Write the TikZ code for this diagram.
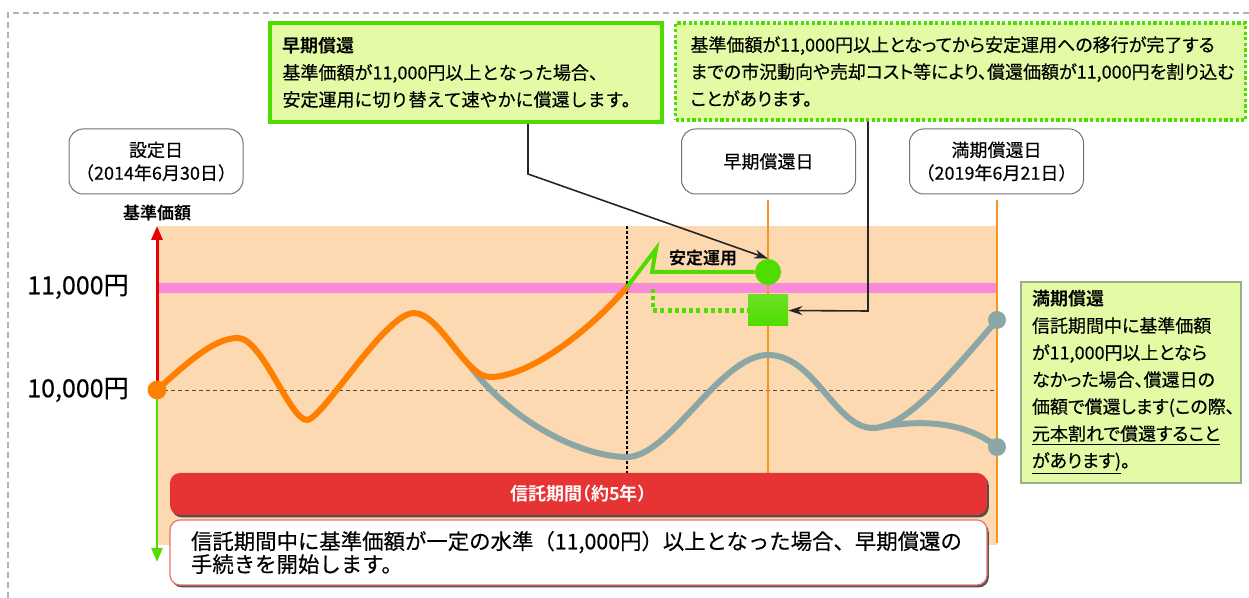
\documentclass[tikz,border=0pt]{standalone}
\usepackage{fontspec}
\setmainfont{Noto Sans CJK JP}[BoldFont={* Bold},UprightFeatures={FakeBold=0.35}]
\newfontfamily\propjp{Noto Sans CJK JP}[BoldFont={* Bold},RawFeature=+palt,UprightFeatures={FakeBold=0.35}]
\usetikzlibrary{arrows.meta,positioning,shadows}

\definecolor{leaf}{HTML}{4FDC00}
\definecolor{pale}{HTML}{E3FBA4}
\definecolor{sage}{HTML}{9AAE8C}
\definecolor{peach}{HTML}{FCD9B1}
\definecolor{pinkband}{HTML}{F98AD8}
\definecolor{pumpkin}{HTML}{FF8000}
\definecolor{tangerine}{HTML}{F7941D}
\definecolor{slate}{HTML}{8CA6A6}
\definecolor{barred}{HTML}{E63333}
\definecolor{axisred}{HTML}{E60000}
\definecolor{axisgreen}{HTML}{55DD00}

\tikzset{
  datebox/.style={draw=black!55, line width=0.5pt, rounded corners=7pt, fill=white,
    minimum width=87pt, minimum height=32.5pt, align=center, inner sep=0pt,
    font=\fontsize{9}{11.5}\selectfont},
  notebox/.style={fill=pale, align=left, inner ysep=0pt, font=\fontsize{9}{13.5}\selectfont},
  pricelabel/.style={anchor=east, inner sep=0pt, font=\fontsize{12.5}{13}\selectfont},
  boldlabel/.style={inner sep=0pt, font=\bfseries\fontsize{8.5}{10}\selectfont},
  callout/.style={draw=black!85, line width=0.8pt, -{Stealth[length=7pt,width=4.5pt]}},
  fund/.style={line width=3pt, line cap=round, line join=round},
  dateline/.style={tangerine, line width=1pt},
  endpoint/.style={circle, fill=slate, minimum size=9pt, inner sep=0pt},
  band/.style={rounded corners=5pt, minimum width=408.5pt,
    drop shadow={shadow xshift=0.9pt, shadow yshift=-1.2pt, fill=black!75, opacity=0.9}},
}

\begin{document}
\begin{tikzpicture}[x=0.5pt,y=-0.5pt]
\useasboundingbox (0,0) rectangle (1249,598);

%frame
\draw[gray!60, line width=0.6pt, dash pattern=on 3pt off 2pt] (8,598) -- (8,13) -- (1249,13);

%chart area
\fill[peach] (157,226) rectangle (997,545);
\fill[pinkband] (157,283) rectangle (997,293);
\draw[black!70, line width=0.4pt, dash pattern=on 2pt off 1.5pt] (157,390) -- (997,390);

%price labels
\node[pricelabel] (upper) at (129,287) {11,000円};
\node[pricelabel] (base) at (129,390) {10,000円};
\node[boldlabel] (navlabel) at (157,213) {基準価額};

%dates
\node[datebox] (start) at (156,161.5) {設定日\\（2014年6月30日）};
\node[datebox] (earlyday) at (768.5,161.5) {早期償還日};
\node[datebox] (endday) at (996.5,161.5) {満期償還日\\（2019年6月21日）};
\draw[dateline] (768,200) -- (768,473);
\draw[dateline] (997,200) -- (997,543);

%axis
\coordinate (zero) at (157,390);
\draw[axisred, line width=1.5pt, -{Triangle[length=7pt,width=5.5pt]}] (zero) -- (157,226);
\draw[axisgreen, line width=1.3pt, -{Triangle[length=7pt,width=5.5pt]}] (zero) -- (157,562);

%switch point
\draw[black, line width=0.9pt, dash pattern=on 1.5pt off 1pt] (627,226) -- (627,473);

%price paths
\draw[fund, slate] (470,366) .. controls (510,420) and (580,457) .. (627,457)
  .. controls (670,457) and (720,355) .. (768,355)
  .. controls (815,355) and (835,428) .. (873,428)
  .. controls (905,428) and (950,375) .. (997,320);
\draw[fund, slate] (880,427) .. controls (930,418) and (970,425) .. (997,447);
\draw[fund, pumpkin] (157,390) .. controls (190,360) and (215,338) .. (238,338)
  .. controls (262,338) and (290,420) .. (307,420)
  .. controls (322,420) and (385,313) .. (414,313)
  .. controls (440,313) and (465,377) .. (490,377)
  .. controls (530,377) and (590,330) .. (627,287);
\fill[pumpkin] (zero) circle[radius=4.7pt];
\node[endpoint] (high) at (997,320) {};
\node[endpoint] (low) at (997,447) {};

%stable
\coordinate (cross) at (627,287);
\node[circle, fill=leaf, minimum size=13pt, inner sep=0pt] (hold) at (768,272) {};
\node[minimum width=20pt, minimum height=15.5pt, inner sep=0pt,
  top color=leaf!85, middle color=leaf!35!white, bottom color=leaf] (payout) at (768,310.5) {};
\draw[leaf, line width=2pt] (cross) -- (656,249) -- (652,272) -- (hold.west);
\draw[leaf, line width=2.4pt, dash pattern=on 2pt off 1.6pt] (653,289) -- (653,310.5) -- (payout.west);
\node[boldlabel] (steady) at (703,258) {安定運用};

%notes
\node[notebox, draw=leaf, line width=2pt, text width=183pt, inner xsep=6.5pt,
  minimum height=49.5pt] (early) at (465.5,72.5)
  {\textbf{早期償還}\\基準価額が11,000円以上となった場合、\\安定運用に切り替えて速やかに償還します。};
\node[notebox, draw=leaf, line width=1.6pt, dash pattern=on 1.6pt off 1.2pt, text width=270pt,
  inner xsep=7.5pt, minimum height=48.5pt, font=\propjp\fontsize{9}{13.5}\selectfont] (slip) at (960.5,71.5)
  {基準価額が11,000円以上となってから安定運用への移行が完了する\\までの市況動向や売却コスト等により、償還価額が11,000円を割り込む\\ことがあります。};
\node[notebox, draw=sage, line width=0.6pt, text width=99pt, inner xsep=5.5pt,
  minimum height=100.5pt, font=\propjp\fontsize{9}{13.5}\selectfont] (maturity) at (1131,382.5)
  {\textbf{満期償還}\\信託期間中に基準価額\\が11,000円以上となら\\なかった場合、償還日の\\価額で償還します(この際、\\\underline{元本割れで償還すること}\\\underline{があります)}。};

%callouts
\coordinate (bend1) at (528,174);
\draw[callout] (early.south -| bend1) -- (bend1) -- (hold.north);
\coordinate (bend2) at (868,311);
\draw[callout] (slip.south -| bend2) -- (bend2) -- (payout.east);

%term
\node[band, fill=barred, minimum height=21pt, text=white,
  font=\propjp\bfseries\fontsize{9}{10}\selectfont] (term) at (578.5,494) {信託期間（約5年）};
\node[band, draw=barred!70, line width=0.6pt, fill=white, minimum height=32.5pt,
  text width=387.5pt, inner xsep=10.5pt, align=left,
  font=\fontsize{10.7}{11.5}\selectfont] (rule) at (578.5,552.5)
  {信託期間中に基準価額が一定の水準（11,000円）以上となった場合、早期償還の\\手続きを開始します。};
\end{tikzpicture}
\end{document}
